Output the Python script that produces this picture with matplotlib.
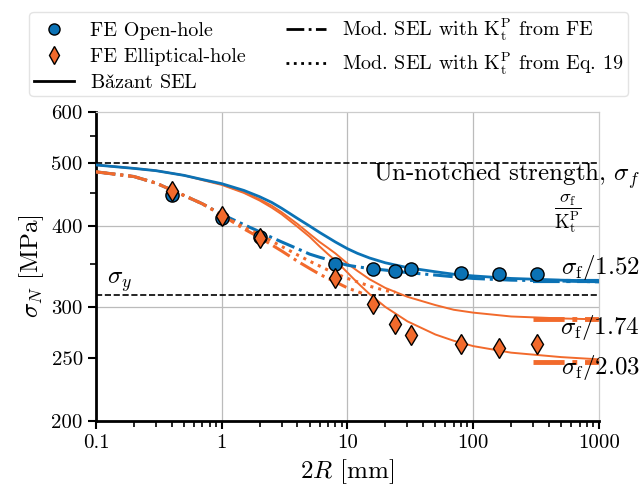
import matplotlib
matplotlib.use("Agg")
import matplotlib.pyplot as plt
from matplotlib.lines import Line2D
from matplotlib.ticker import FixedLocator, FixedFormatter, NullFormatter, LogLocator

plt.rcParams.update({
    "font.family": ["cmr10", "DejaVu Serif"],
    "mathtext.fontset": "cm",
    "axes.formatter.use_mathtext": True,
})

# FE results
size_fe = [0.4, 1, 2, 8, 16, 24, 32, 80, 160, 320]
open_hole = [447, 411, 385, 349, 343, 341, 343, 339, 337, 337]
ellip_hole = [453, 414, 383, 333, 303, 282, 272, 263, 259, 263]

# model curves, sampled along 2R
size_curve = [0.1, 0.2, 0.3, 0.5, 0.7, 1, 1.5, 2, 2.5, 3, 4, 5, 6, 7, 8, 10,
              12, 15, 20, 30, 50, 70, 100, 200, 500, 1000]
sel_152 = [497, 491, 487, 479, 472, 465, 454, 444, 435, 426, 411, 400, 391,
           384, 378, 369, 363, 357, 351, 345, 340, 337, 335, 332, 330, 329]
sel_174 = [497, 491, 487, 479, 472, 464, 451, 440, 430, 420, 403, 389, 378,
           370, 363, 350, 341, 331, 321, 311, 302, 297, 294, 290, 288, 287]
sel_203 = [497, 491, 487, 479, 471, 463, 450, 438, 427, 417, 399, 385, 372,
           362, 354, 339, 327, 314, 300, 285, 272, 266, 261, 255, 251, 249]
mod_152 = [485, 477, 466, 446, 433, 417, 402, 392, 384, 378, 369, 362, 358,
           355, 352, 348, 346, 344, 342, 339, 336, 334, 332, 330, 329, 328]

size_mod_ell = [0.1, 0.2, 0.3, 0.5, 0.7, 1, 1.5, 2, 2.5, 3, 4, 5, 6, 7, 8, 10, 13]
mod_203 = [485, 477, 466, 446, 433, 416, 396, 384, 374, 366, 353, 344, 337,
           332, 328, 321, 315]
size_eq19 = [0.1, 0.2, 0.3, 0.5, 0.7, 1, 1.5, 2, 2.5, 3, 4, 5, 6, 7, 8, 10,
             12, 15, 20, 24]
eq19_174 = [485, 477, 466, 446, 433, 416, 398, 388, 379, 372, 361, 353, 347,
            342, 338, 332, 328, 323, 318, 316]

sigma_f = 500
sigma_y = 313
kt = [1.52, 1.74, 2.03]
size_tail = [300, 1000]

blue = "#0b72b5"
orange = "#f26a2c"

fig = plt.figure(figsize=(6.42, 4.94), dpi=100)
ax = fig.add_axes([0.1495, 0.1478, 0.7835, 0.6255])
ax.set_xscale("log")
ax.set_yscale("log")

# reference strengths
ax.plot([0.1, 1000], [sigma_f, sigma_f], "k--", lw=1.2, zorder=2)
ax.plot([0.1, 1000], [sigma_y, sigma_y], "k--", lw=1.2, zorder=2)

# Bazant SEL
ax.plot(size_curve, sel_174, "-", color=orange, lw=1.4, zorder=3)
ax.plot(size_curve, sel_203, "-", color=orange, lw=1.4, zorder=3)
ax.plot(size_curve, sel_152, "-", color=blue, lw=2.0, zorder=3)

# modified SEL
ax.plot(size_curve, mod_152, "-.", color=blue, lw=2.2, zorder=3)
ax.plot(size_eq19, eq19_174, ":", color=orange, lw=2.2, zorder=3)
ax.plot(size_mod_ell, mod_203, "-.", color=orange, lw=2.2, zorder=3)

# large-size limits sigma_f / Kt
ax.plot(size_tail, [sigma_f / kt[1]] * 2, "-.", color=orange, lw=3.5, zorder=2)
ax.plot(size_tail, [sigma_f / kt[2]] * 2, "-.", color=orange, lw=3.5, zorder=2)
ax.plot(size_tail, [sigma_f / kt[0]] * 2, "-.", color=blue, lw=3.0, zorder=2)

ax.plot(size_fe, open_hole, "o", color=blue, mec="k", mew=1.0, ms=9.5,
        zorder=5, clip_on=False)
ax.plot(size_fe, ellip_hole, "d", color=orange, mec="k", mew=1.0, ms=10,
        zorder=6, clip_on=False)

ax.set_xlim(0.1, 1000)
ax.set_ylim(200, 600)

ax.xaxis.set_major_locator(FixedLocator([0.1, 1, 10, 100, 1000]))
ax.xaxis.set_major_formatter(FixedFormatter(["0.1", "1", "10", "100", "1000"]))
ax.xaxis.set_minor_locator(LogLocator(base=10, subs=range(2, 10), numticks=20))
ax.xaxis.set_minor_formatter(NullFormatter())
ax.yaxis.set_major_locator(FixedLocator([200, 250, 300, 400, 500, 600]))
ax.yaxis.set_major_formatter(FixedFormatter(["200", "250", "300", "400", "500", "600"]))
ax.yaxis.set_minor_locator(FixedLocator([350, 450, 550]))
ax.yaxis.set_minor_formatter(NullFormatter())
ax.tick_params(which="major", length=6, width=1.5, labelsize=15)
ax.tick_params(which="minor", length=4, width=1.2)

for v in [1, 10, 100]:
    ax.axvline(v, color="#bbbbbb", lw=0.9, zorder=1)
for v in [300, 400]:
    ax.axhline(v, color="#bbbbbb", lw=0.9, zorder=1)

for s in ["left", "bottom"]:
    ax.spines[s].set_linewidth(2.0)
for s in ["top", "right"]:
    ax.spines[s].set_color("#cccccc")
    ax.spines[s].set_linewidth(0.9)

ax.set_xlabel(r"$2R$ [mm]", fontsize=18, labelpad=4)
ax.set_ylabel(r"$\sigma_N$ [MPa]", fontsize=18, labelpad=4)

ax.text(2100, 479, r"Un-notched strength, $\sigma_f$", fontsize=18,
        ha="right", va="center", clip_on=False)
ax.text(560, 418, r"$\dfrac{\sigma_\mathrm{f}}{\mathrm{K}_\mathrm{t}^\mathrm{P}}$",
        fontsize=13.5, ha="center", va="center")
ax.text(2100, 345, r"$\sigma_\mathrm{f}/1.52$", fontsize=18, ha="right", va="center")
ax.text(2100, 279, r"$\sigma_\mathrm{f}/1.74$", fontsize=18, ha="right", va="center")
ax.text(2100, 242, r"$\sigma_\mathrm{f}/2.03$", fontsize=18, ha="right", va="center")
ax.text(0.155, 328, r"$\sigma_y$", fontsize=18, ha="center", va="center")

handles = [
    Line2D([], [], ls="none", marker="o", color=blue, mec="k", ms=8),
    Line2D([], [], ls="none", marker="d", color=orange, mec="k", ms=9),
    Line2D([], [], ls="-", color="k", lw=2),
    Line2D([], [], ls="-.", color="k", lw=2),
    Line2D([], [], ls=":", color="k", lw=2),
]
labels = [
    "FE Open-hole",
    "FE Elliptical-hole",
    r"Ba$\check{\mathrm{z}}$ant SEL",
    r"Mod. SEL with $\mathrm{K}_\mathrm{t}^\mathrm{P}$ from FE",
    r"Mod. SEL with $\mathrm{K}_\mathrm{t}^\mathrm{P}$ from Eq. 19",
]
fig.legend(handles, labels, loc="upper center", bbox_to_anchor=(0.512, 0.996),
           ncol=2, fontsize=14.5, frameon=True, fancybox=True,
           edgecolor="#dddddd", columnspacing=2.0, handlelength=2.0,
           handletextpad=0.8, labelspacing=0.4, borderpad=0.2)

fig.savefig("out.png", dpi=100)
